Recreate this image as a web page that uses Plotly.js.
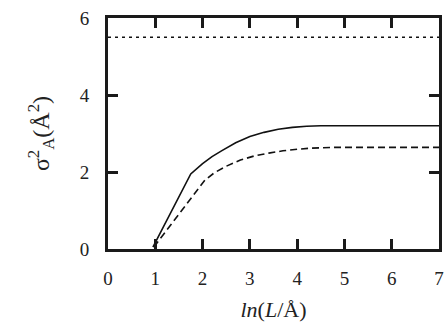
<!DOCTYPE html>
<html>
<head>
<meta charset="utf-8">
<script src="https://cdn.plot.ly/plotly-3.0.1.min.js"></script>
<style>html,body{margin:0;padding:0;background:#fff;}#chart{width:447px;height:329px;}</style>
</head>
<body>
<div id="chart"></div>
<script>
// Solid curve
const solidX = [0.95, 1.75, 2.0, 2.2, 2.4, 2.7, 3.0, 3.3, 3.6, 3.9, 4.2, 4.5, 7.0];
const solidY = [0.05, 1.95, 2.22, 2.4, 2.55, 2.76, 2.92, 3.03, 3.11, 3.16, 3.19, 3.2, 3.2];
// Dashed curve
const dashX = [0.97, 2.05, 2.25, 2.5, 2.8, 3.1, 3.4, 3.7, 4.0, 4.3, 4.8, 7.0];
const dashY = [0.05, 1.79, 1.98, 2.15, 2.31, 2.42, 2.49, 2.55, 2.59, 2.62, 2.64, 2.64];
// Dotted reference line
const dotX = [0, 7];
const dotY = [5.5, 5.5];
const xTicks = [0, 1, 2, 3, 4, 5, 6, 7];
const yTicks = [0, 2, 4, 6];

const SERIF = '"Liberation Serif", "Times New Roman", "DejaVu Serif", serif';

const traces = [
  {x: dotX, y: dotY, mode: 'lines', line: {color: '#111', width: 1.5, dash: '3px,4px'}, hoverinfo: 'skip'},
  {x: solidX, y: solidY, mode: 'lines', line: {color: '#111', width: 1.6}, hoverinfo: 'skip'},
  {x: dashX, y: dashY, mode: 'lines', line: {color: '#111', width: 1.6, dash: '7px,4px'}, hoverinfo: 'skip'}
];

const axisCommon = {
  showline: true, linewidth: 3, linecolor: '#1a1a1a', mirror: 'ticks',
  ticks: 'inside', ticklen: 10, tickwidth: 3, tickcolor: '#1a1a1a',
  showgrid: false, zeroline: false,
  tickfont: {family: SERIF, size: 19, color: '#222'}
};

const layout = {
  width: 447, height: 329,
  margin: {l: 108, r: 8, t: 18, b: 80},
  paper_bgcolor: '#fff', plot_bgcolor: '#fff',
  showlegend: false,
  xaxis: Object.assign({}, axisCommon, {
    range: [0, 7], tickvals: xTicks, ticktext: xTicks.map(String),
    ticklabelstandoff: 10,
    title: {text: '<i>ln</i>(<i>L</i>/Å)', font: {family: SERIF, size: 22, color: '#222'}, standoff: 14}
  }),
  yaxis: Object.assign({}, axisCommon, {
    range: [0, 6], tickvals: yTicks, ticktext: yTicks.map(String),
    ticklabelstandoff: 12,
    title: {text: 'σ<sup>2</sup><sub>A</sub>(Å<sup>2</sup>)', font: {family: SERIF, size: 24, color: '#222'}, standoff: 24}
  })
};

Plotly.newPlot('chart', traces, layout, {staticPlot: true, displayModeBar: false});
</script>
</body>
</html>
